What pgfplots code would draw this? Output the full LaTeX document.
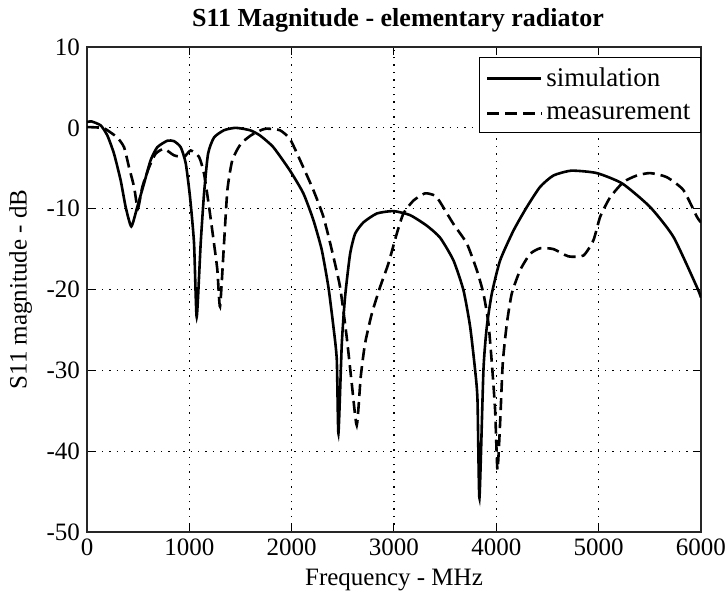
\documentclass[border=0pt]{standalone}
\usepackage{pgfplots}
\pgfplotsset{compat=1.18}
\usepackage{fontspec}
\setmainfont{Liberation Serif}
\begin{document}
\begin{tikzpicture}
\begin{axis}[
  scale only axis,
  width=307pt, height=242.5pt,
  xmin=0, xmax=6000, ymin=-50, ymax=10,
  xtick={0,1000,2000,3000,4000,5000,6000},
  xticklabels={0,1000,2000,3000,4000,5000,6000},
  ytick={-50,-40,-30,-20,-10,0,10},
  yticklabels={-50,-40,-30,-20,-10,0,10},
  font=\fontsize{12.5}{14}\selectfont,
  tick align=inside,
  major tick length=4pt,
  tick style={black, line width=0.5pt},
  axis line style={black!85, line width=0.7pt},
  grid=major,
  major grid style={black, line width=0.6pt, dash pattern=on 0.7pt off 3pt},
  title={\fontsize{13}{15}\selectfont\textbf{S11 Magnitude - elementary radiator}},
  title style={at={(axis description cs:0.5,1)}, anchor=base, yshift=4pt, xshift=2pt},
  xlabel={Frequency - MHz},
  xlabel style={at={(axis description cs:0.5,-0.111)}, anchor=base},
  ylabel={S11 magnitude - dB},
  ylabel style={at={(axis description cs:-0.108,0.5)}, anchor=center},
  legend style={at={(axis description cs:1,0.979)}, anchor=north east,
    draw=black, line width=0.6pt, inner xsep=3pt, inner ysep=3pt, row sep=3.5pt,
    font=\fontsize{13.5}{15}\selectfont, cells={anchor=west}},
  legend cell align=left,
  legend image code/.code={\draw[#1] (0cm,0cm) -- (0.95cm,0cm);},
]
\addplot[black, line width=1.3pt, smooth, tension=0.35] coordinates {
(0,0.7) (42,0.8) (134,0.3) (199,-0.95) (264,-3.2) (329,-6.5) (378,-9.8) (433,-12.2) (491,-9.8) (557,-6.9) (622,-4.0) (687,-2.4) (785,-1.6) (850,-1.65) (916,-2.4) (965,-4.4) (1007,-8.6) (1046,-14.3) (1072,-23.4) (1111,-14.3) (1144,-8.1) (1183,-3.2) (1241,-1.2) (1339,-0.3) (1453,0.0) (1593,-0.3) (1691,-0.95) (1821,-2.4) (1984,-5.3) (2114,-8.1) (2212,-11.4) (2294,-15.1) (2359,-19.7) (2408,-24.6) (2441,-28.7) (2457,-37.8) (2490,-26.7) (2522,-20.9) (2571,-15.6) (2620,-13.1) (2701,-11.7) (2832,-10.6) (2994,-10.3) (3157,-10.8) (3320,-12.1) (3451,-13.6) (3581,-16.4) (3679,-20.1) (3744,-24.6) (3793,-30.0) (3816,-33.7) (3835,-45.8) (3874,-30.0) (3907,-24.6) (3956,-20.5) (4037,-16.4) (4168,-12.7) (4298,-9.8) (4428,-7.3) (4558,-5.9) (4734,-5.3) (4982,-5.6) (5232,-6.9) (5503,-9.8) (5731,-13.5) (5960,-19.7) (6000,-21.0)
};
\addlegendentry{simulation}
\addplot[black, line width=1.3pt, dash pattern=on 6pt off 3pt, smooth, tension=0.35] coordinates {
(0,0.1) (150,0.0) (199,-0.3) (296,-1.2) (362,-2.4) (411,-4.9) (460,-7.3) (497,-10.0) (541,-7.3) (606,-4.9) (671,-3.2) (753,-2.6) (850,-3.4) (948,-3.6) (1013,-2.8) (1095,-3.6) (1144,-5.7) (1193,-9.8) (1241,-14.3) (1274,-17.6) (1300,-22.1) (1339,-14.3) (1372,-7.7) (1420,-4.0) (1502,-2.0) (1600,-0.95) (1698,-0.3) (1756,-0.1) (1886,-0.3) (1984,-1.4) (2082,-4.0) (2212,-7.7) (2310,-11.0) (2392,-15.1) (2473,-19.7) (2538,-25.9) (2587,-31.6) (2636,-36.8) (2675,-30.8) (2717,-26.7) (2783,-23.0) (2864,-19.7) (2945,-16.8) (3027,-13.1) (3092,-10.6) (3190,-9.0) (3304,-8.1) (3402,-8.4) (3451,-9.2) (3581,-11.9) (3711,-14.3) (3809,-17.6) (3874,-20.5) (3923,-24.2) (3956,-29.1) (3988,-34.9) (4011,-42.3) (4037,-36.5) (4063,-29.1) (4103,-24.2) (4151,-20.5) (4233,-17.6) (4330,-15.6) (4428,-14.9) (4558,-15.0) (4704,-15.9) (4851,-15.8) (4949,-13.9) (5015,-11.0) (5112,-8.6) (5243,-6.7) (5373,-5.9) (5503,-5.6) (5665,-6.1) (5828,-7.7) (5960,-11.0) (6000,-11.7)
};
\addlegendentry{measurement}
\end{axis}
\pgfresetboundingbox
\useasboundingbox ([shift={(-43.5pt,-30pt)}]current axis.south west) rectangle ([shift={(13pt,23.5pt)}]current axis.north east);
\end{tikzpicture}
\end{document}
